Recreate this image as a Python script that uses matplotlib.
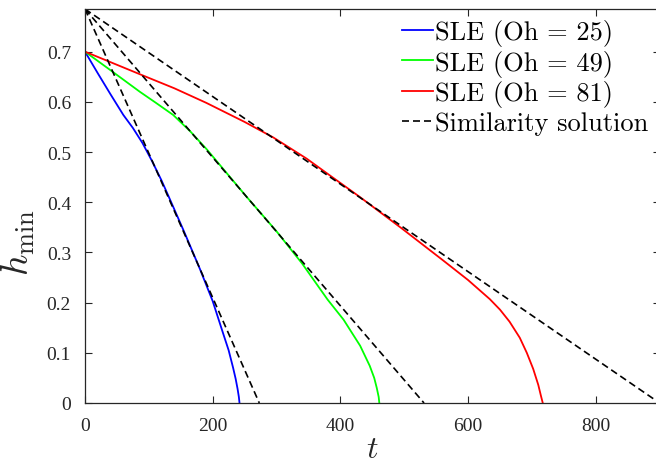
import matplotlib
matplotlib.use("Agg")
import matplotlib.pyplot as plt

# SLE solutions
t_oh25 = [0, 20, 40, 60, 75, 90, 105, 120, 135, 155, 180, 200, 216, 225, 232,
          236, 239, 241, 242]
h_oh25 = [0.700, 0.657, 0.615, 0.574, 0.548, 0.518, 0.482, 0.443, 0.400, 0.342,
          0.267, 0.203, 0.140, 0.105, 0.070, 0.048, 0.028, 0.012, 0.0]

t_oh49 = [0, 40, 86, 110, 138, 165, 191, 220, 253, 300, 340, 380, 405, 431, 446,
          453, 457, 460, 461]
h_oh49 = [0.700, 0.663, 0.620, 0.599, 0.574, 0.541, 0.505, 0.461, 0.411, 0.342,
          0.278, 0.206, 0.166, 0.114, 0.074, 0.050, 0.030, 0.012, 0.0]

t_oh81 = [0, 86, 140, 190, 250, 295, 347, 384, 431, 496, 560, 600, 634, 650, 665,
          681, 692, 702, 710, 714, 717]
h_oh81 = [0.700, 0.655, 0.627, 0.598, 0.560, 0.529, 0.487, 0.453, 0.410, 0.348,
          0.285, 0.245, 0.207, 0.186, 0.162, 0.130, 0.100, 0.068, 0.036, 0.015, 0.0]

# similarity solutions: straight lines from h0 at t=0 to 0 at t_c
h0 = 0.785
t_c = [273, 531, 900]

labels = ["SLE (Oh = 25)", "SLE (Oh = 49)", "SLE (Oh = 81)", "Similarity solution"]

plt.rcParams["mathtext.fontset"] = "cm"
gray = "#262626"

fig = plt.figure(figsize=(6.56, 4.64), dpi=100)
ax = fig.add_axes([85/656, 60/464, 574.6/656, 394/464])

ax.plot(t_oh25, h_oh25, color="#0000ff", lw=1.3, label=labels[0])
ax.plot(t_oh49, h_oh49, color="#00ff00", lw=1.3, label=labels[1])
ax.plot(t_oh81, h_oh81, color="#ff0000", lw=1.3, label=labels[2])
for i, tc in enumerate(t_c):
    ax.plot([0, tc], [h0, 0], color="k", lw=1.2, dashes=(4.2, 2.4),
            label=labels[3] if i == 0 else None)

ax.set_xlim(0, 900)
ax.set_ylim(0, h0)
ax.set_xticks([0, 200, 400, 600, 800])
ax.set_yticks([0, 0.1, 0.2, 0.3, 0.4, 0.5, 0.6, 0.7])
ax.set_yticklabels(["0", "0.1", "0.2", "0.3", "0.4", "0.5", "0.6", "0.7"])

ax.tick_params(direction="in", length=5, width=0.8, colors=gray,
               top=True, right=True, labelsize=14, pad=10)
for lab in ax.get_xticklabels() + ax.get_yticklabels():
    lab.set_family("Liberation Serif")
for sp in ax.spines.values():
    sp.set_color(gray)
    sp.set_linewidth(0.9)

ax.set_xlabel("$t$", fontsize=23, color=gray)
ax.xaxis.set_label_coords(0.5, -0.076)
ax.set_ylabel(r"$h_{\min}$", fontsize=27, color=gray)
ax.yaxis.set_label_coords(-0.083, 0.41)

leg = ax.legend(loc="upper right", bbox_to_anchor=(648/656, 1 - 20/464),
                bbox_transform=fig.transFigure, frameon=False,
                prop={"family": "cmr10", "size": 19}, handlelength=1.2,
                handletextpad=0.05, labelspacing=0.14, borderaxespad=0,
                borderpad=0)

fig.savefig("out.png", dpi=100)
